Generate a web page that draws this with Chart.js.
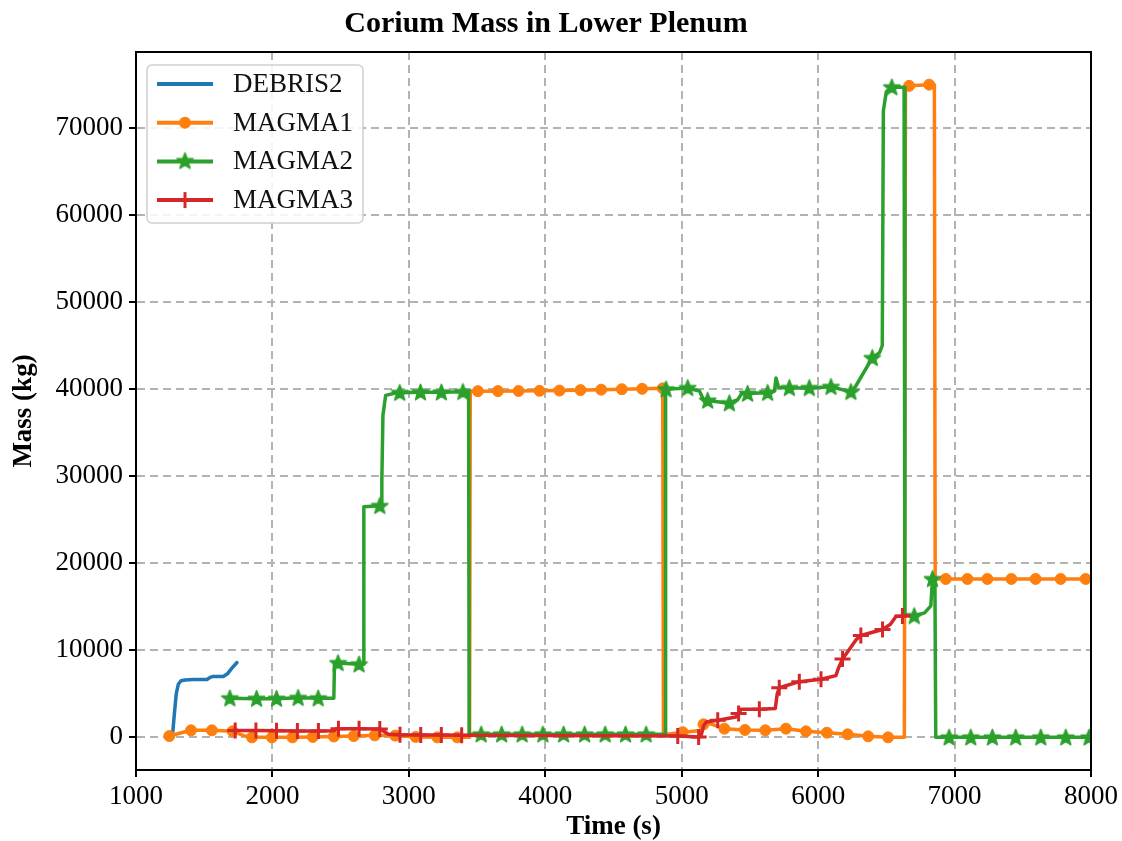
<!DOCTYPE html>
<html lang="en">
<head>
    <meta charset="UTF-8">
    <title>Corium Mass in Lower Plenum</title>
    <script src="https://cdn.jsdelivr.net/npm/chart.js"></script>
    <style>
        body { margin: 0; background: #fff; }
        #chart { display: block; }
    </style>
</head>
<body>
    <canvas id="chart" width="1122" height="841"></canvas>

    <script>
        // axis ranges and ticks
        var xTicks = [1000, 2000, 3000, 4000, 5000, 6000, 7000, 8000];
        var yTicks = [0, 10000, 20000, 30000, 40000, 50000, 60000, 70000];
        var xRange = [1000, 8000];
        var yRange = [-3750, 78750];
        var seriesNames = ['DEBRIS2', 'MAGMA1', 'MAGMA2', 'MAGMA3'];

        // DEBRIS2 (line only)
        var debris2Time = [1268, 1280, 1295, 1310, 1330, 1360, 1420, 1520, 1545, 1565, 1640, 1670, 1700, 1740];
        var debris2Mass = [300, 2500, 5000, 6100, 6500, 6600, 6650, 6650, 6900, 7000, 7000, 7300, 7900, 8600];

        // MAGMA1 line and circle markers
        var magma1Time = [1244, 1403, 1556, 1708, 1790, 1850, 2147, 2296, 2450, 2596, 2750, 2900, 3050, 3209, 3445, 3450, 3506, 3804, 4104, 4410, 4710, 4861, 4866, 5007, 5140, 5160, 5200, 5313, 5464, 5613, 5764, 5911, 6064, 6216, 6367, 6513, 6632, 6640, 6667, 6814, 6852, 6858, 8000];
        var magma1Mass = [150, 810, 810, 700, 200, 0, 0, 50, 100, 150, 230, 200, 50, 0, 0, 39700, 39780, 39800, 39850, 39950, 40050, 40100, 300, 600, 800, 1500, 1600, 1000, 850, 810, 1000, 690, 540, 350, 115, 0, 0, 74800, 74860, 75000, 75000, 18200, 18200];
        var magma1MarkTime = [1244, 1403, 1556, 1708, 1850, 1996, 2147, 2296, 2450, 2596, 2750, 2900, 3050, 3209, 3355, 3506, 3653, 3804, 3958, 4104, 4258, 4410, 4561, 4710, 4861, 5007, 5160, 5313, 5464, 5613, 5764, 5911, 6064, 6216, 6367, 6513, 6667, 6814, 6936, 7094, 7240, 7416, 7594, 7778, 7961];
        var magma1MarkMass = [150, 810, 810, 700, 0, 0, 0, 50, 100, 150, 230, 200, 50, 0, 0, 39780, 39790, 39800, 39820, 39850, 39900, 39950, 40000, 40050, 40100, 600, 1500, 1000, 850, 810, 1000, 690, 540, 350, 115, 0, 74860, 75000, 18200, 18200, 18200, 18200, 18200, 18200, 18200];

        // MAGMA2 line and star markers
        var magma2Time = [1688, 1884, 2030, 2188, 2335, 2450, 2455, 2481, 2635, 2664, 2670, 2787, 2799, 2802, 2810, 2830, 2909, 2933, 3085, 3238, 3396, 3438, 3442, 3530, 4878, 4882, 5044, 5130, 5166, 5190, 5349, 5410, 5440, 5483, 5630, 5680, 5691, 5710, 5789, 5935, 6094, 6240, 6277, 6397, 6450, 6470, 6478, 6500, 6540, 6630, 6636, 6704, 6780, 6826, 6838, 6850, 6856, 6862, 8000];
        var magma2Mass = [4500, 4450, 4450, 4550, 4500, 4500, 8600, 8550, 8400, 8400, 26500, 26600, 26700, 29500, 37000, 39300, 39600, 39600, 39650, 39650, 39700, 39700, 350, 350, 350, 40000, 40150, 39800, 38600, 38700, 38400, 38800, 39500, 39500, 39600, 39800, 41300, 40200, 40150, 40150, 40280, 39700, 40400, 43600, 44200, 45000, 72000, 74200, 74700, 74700, 14000, 13950, 14300, 15100, 18200, 18400, 18000, 0, 0];
        var magma2MarkTime = [1688, 1884, 2030, 2188, 2335, 2481, 2635, 2787, 2933, 3085, 3238, 3396, 3530, 3680, 3830, 3982, 4134, 4288, 4439, 4588, 4739, 4885, 5044, 5190, 5349, 5483, 5630, 5789, 5935, 6094, 6240, 6397, 6540, 6704, 6838, 6960, 7119, 7277, 7448, 7632, 7815, 7986];
        var magma2MarkMass = [4500, 4450, 4450, 4550, 4500, 8550, 8400, 26600, 39600, 39650, 39650, 39700, 350, 350, 350, 350, 350, 350, 350, 350, 350, 40000, 40150, 38700, 38400, 39500, 39600, 40150, 40150, 40280, 39700, 43600, 74700, 13950, 18200, 0, 0, 0, 0, 0, 0, 0];

        // MAGMA3 line and plus markers
        var magma3Time = [1708, 1879, 2030, 2183, 2337, 2450, 2470, 2635, 2790, 2850, 2935, 3087, 3238, 3387, 4971, 5124, 5140, 5160, 5180, 5264, 5398, 5417, 5435, 5569, 5686, 5700, 5715, 5862, 6021, 6130, 6150, 6179, 6277, 6313, 6472, 6530, 6570, 6618, 6650];
        var magma3Mass = [800, 780, 750, 720, 720, 750, 1000, 1000, 950, 350, 300, 280, 260, 250, 150, 50, 100, 1300, 1770, 1970, 2350, 2740, 3240, 3240, 3320, 5000, 5700, 6400, 6670, 7100, 8000, 9000, 11200, 11700, 12400, 13000, 13900, 13950, 14000];
        var magma3MarkTime = [1727, 1879, 2030, 2183, 2337, 2484, 2635, 2787, 2935, 3087, 3238, 3387, 4971, 5124, 5264, 5417, 5569, 5715, 5862, 6021, 6179, 6313, 6472, 6618];
        var magma3MarkMass = [800, 780, 750, 720, 720, 1000, 1000, 950, 300, 280, 260, 250, 150, 50, 1970, 2740, 3240, 5700, 6400, 6670, 9000, 11700, 12400, 13950];

        var colors = ['#1f77b4', '#ff7f0e', '#2ca02c', '#d62728'];
        var serif = "'Liberation Serif', 'Times New Roman', serif";

        function pts(t, m) {
            return t.map(function (x, i) { return { x: x, y: m[i] }; });
        }

        // filled five point star, like matplotlib's '*' marker
        function makeStar(color, size) {
            var c = document.createElement('canvas');
            c.width = size; c.height = size;
            var g = c.getContext('2d');
            var R = size / 2 - 1, r = R * 0.42, cx = size / 2, cy = size / 2 + 0.5;
            g.beginPath();
            for (var i = 0; i < 10; i++) {
                var rad = (i % 2 === 0) ? R : r;
                var a = -Math.PI / 2 + i * Math.PI / 5;
                g.lineTo(cx + rad * Math.cos(a), cy + rad * Math.sin(a));
            }
            g.closePath();
            g.fillStyle = color;
            g.fill();
            g.lineWidth = 1.5;
            g.lineJoin = 'round';
            g.strokeStyle = color;
            g.stroke();
            return c;
        }
        var starImg = makeStar(colors[2], 19);

        function lineSet(label, data, color, order) {
            return {
                label: label, data: data, borderColor: color, backgroundColor: color,
                borderWidth: 3.5, pointRadius: 0, tension: 0, fill: false,
                borderJoinStyle: 'round', borderCapStyle: 'round', clip: 0, order: order
            };
        }
        function markSet(label, data, color, style, radius, border, order) {
            return {
                label: label, data: data, showLine: false, borderColor: color, backgroundColor: color,
                pointStyle: style, pointRadius: radius, pointBorderWidth: border, clip: 0, order: order
            };
        }

        // custom legend in the upper left of the plot + frame round the axes
        var frameAndLegend = {
            id: 'frameAndLegend',
            afterDatasetsDraw: function (chart) {
                var ctx = chart.ctx, a = chart.chartArea;
                ctx.save();
                ctx.strokeStyle = '#000';
                ctx.lineWidth = 2;
                ctx.strokeRect(a.left, a.top, a.right - a.left, a.bottom - a.top);

                var bx = a.left + 11, by = a.top + 13, bw = 216, bh = 158;
                ctx.beginPath();
                ctx.roundRect(bx, by, bw, bh, 5);
                ctx.fillStyle = 'rgba(255,255,255,0.85)';
                ctx.fill();
                ctx.strokeStyle = '#d0d0d0';
                ctx.lineWidth = 1.5;
                ctx.stroke();

                ctx.font = '27px ' + serif;
                ctx.textBaseline = 'middle';
                ctx.textAlign = 'left';
                for (var i = 0; i < seriesNames.length; i++) {
                    var y = by + 19 + i * 38.7;
                    var x0 = bx + 10, x1 = bx + 66, xm = (x0 + x1) / 2;
                    ctx.strokeStyle = colors[i];
                    ctx.lineWidth = 4;
                    ctx.beginPath(); ctx.moveTo(x0, y); ctx.lineTo(x1, y); ctx.stroke();
                    ctx.fillStyle = colors[i];
                    if (i === 1) {
                        ctx.beginPath(); ctx.arc(xm, y, 6, 0, Math.PI * 2); ctx.fill();
                    } else if (i === 2) {
                        ctx.drawImage(starImg, xm - 9.5, y - 10);
                    } else if (i === 3) {
                        ctx.lineWidth = 3;
                        ctx.beginPath(); ctx.moveTo(xm, y - 8); ctx.lineTo(xm, y + 8); ctx.stroke();
                    }
                    ctx.fillStyle = '#111';
                    ctx.fillText(seriesNames[i], bx + 86, y + 1);
                }
                ctx.restore();
            }
        };

        Chart.defaults.font.family = serif;
        Chart.defaults.color = '#000';

        var gridStyle = {
            color: '#b3b3b3', lineWidth: 2, tickLength: 7,
            tickColor: '#000', tickWidth: 2, tickBorderDash: []
        };

        new Chart(document.getElementById('chart'), {
            type: 'line',
            data: {
                datasets: [
                    lineSet(seriesNames[0], pts(debris2Time, debris2Mass), colors[0], 8),
                    lineSet(seriesNames[1], pts(magma1Time, magma1Mass), colors[1], 6),
                    markSet(seriesNames[1], pts(magma1MarkTime, magma1MarkMass), colors[1], 'circle', 5.5, 1, 5),
                    lineSet(seriesNames[2], pts(magma2Time, magma2Mass), colors[2], 4),
                    markSet(seriesNames[2], pts(magma2MarkTime, magma2MarkMass), colors[2], starImg, 10, 1, 3),
                    lineSet(seriesNames[3], pts(magma3Time, magma3Mass), colors[3], 2),
                    markSet(seriesNames[3], pts(magma3MarkTime, magma3MarkMass), colors[3], 'cross', 8, 3, 1)
                ]
            },
            options: {
                responsive: false,
                animation: false,
                devicePixelRatio: 1,
                layout: { padding: { left: 0, right: 30, top: 0, bottom: 0 } },
                plugins: {
                    legend: { display: false },
                    tooltip: { enabled: false },
                    title: {
                        display: true,
                        text: 'Corium Mass in Lower Plenum',
                        color: '#000',
                        font: { size: 30, weight: 'bold', family: serif, lineHeight: 1.2 },
                        padding: { top: 6, bottom: 10 }
                    }
                },
                scales: {
                    x: {
                        type: 'linear',
                        min: xRange[0], max: xRange[1],
                        afterBuildTicks: function (s) { s.ticks = xTicks.map(function (v) { return { value: v }; }); },
                        afterFit: function (s) { s.height = 71; },
                        ticks: {
                            font: { size: 27 }, color: '#000', padding: 4, maxRotation: 0,
                            callback: function (v) { return String(v); }
                        },
                        grid: gridStyle,
                        border: { display: true, color: '#000', width: 2, dash: [8, 5] },
                        title: {
                            display: true, text: 'Time (s)', color: '#000',
                            font: { size: 27, weight: 'bold', lineHeight: 1 },
                            padding: { top: 0, bottom: 0 }
                        }
                    },
                    y: {
                        type: 'linear',
                        min: yRange[0], max: yRange[1],
                        afterBuildTicks: function (s) { s.ticks = yTicks.map(function (v) { return { value: v }; }); },
                        afterFit: function (s) { s.width = 136; },
                        ticks: {
                            font: { size: 27 }, color: '#000', padding: 6,
                            callback: function (v) { return String(v); }
                        },
                        grid: gridStyle,
                        border: { display: true, color: '#000', width: 2, dash: [8, 5] },
                        title: {
                            display: true, text: 'Mass (kg)', color: '#000',
                            font: { size: 27, weight: 'bold', lineHeight: 1 },
                            padding: { top: 11, bottom: 0 }
                        }
                    }
                }
            },
            plugins: [frameAndLegend]
        });
    </script>
</body>
</html>
